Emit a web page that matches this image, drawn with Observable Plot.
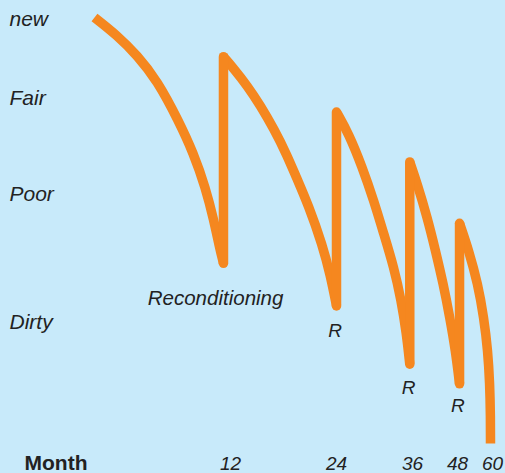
<!DOCTYPE html>
<html>
<head>
<meta charset="utf-8">
<script src="https://cdn.jsdelivr.net/npm/d3@7"></script>
<script src="https://cdn.jsdelivr.net/npm/@observablehq/plot@0.6"></script>
<style>
  html, body { margin: 0; padding: 0; background: #c8eafa; }
  #chart svg { display: block; background: #c8eafa; }
</style>
</head>
<body>
<div id="chart"></div>
<script>
// Month ticks
const monthTicks = [12, 24, 36, 48, 60];
// Condition categories (score on a 0–100 condition scale)
const conditionLabels = ["new", "Fair", "Poor", "Dirty"];
const conditionScores = [99.5, 81, 58.5, 28.5];

// Depreciation segments: [month, condition score]
const seg1 = [[0, 100], [2.0, 95.8], [3.77, 91.1], [5.53, 85.2], [7.41, 75.8], [8.74, 68.1], [9.79, 60.1], [10.54, 52.3], [11.03, 46.0], [11.38, 42.3]];
const seg2 = [[11.38, 90.8], [12.37, 88.0], [13.89, 84.0], [15.40, 79.3], [16.90, 73.9], [18.42, 67.6], [19.36, 62.9], [20.83, 55.9], [22.42, 46.5], [23.32, 39.4], [24, 32.3]];
const seg3 = [[24, 77.8], [25.94, 72.7], [28.06, 64.9], [29.89, 57.0], [31.47, 49.2], [33.05, 41.4], [34.22, 33.6], [35.05, 25.8], [35.57, 18.6]];
const seg4 = [[35.57, 66.1], [37.25, 61.0], [39.92, 53.1], [42.13, 45.3], [44.19, 37.5], [45.95, 29.6], [47.47, 21.8], [48.7, 14.0]];
const seg5 = [[48.7, 51.7], [51.87, 45.3], [54.96, 37.5], [57.02, 29.6], [58.39, 21.8], [59.07, 14.0], [59.31, 6.2], [59.31, 0]];
const segments = [seg1, seg2, seg3, seg4, seg5];

// Annotations
const annoLabels = ["Reconditioning", "R", "R", "R"];
const annoMonths = [4.7, 23.85, 35.4, 48.1];
const annoScores = [32.6, 24.9, 11.7, 7.3];

const lineData = segments.flatMap((s, i) => s.map(([m, v]) => ({seg: i, month: m, score: v})));
const jumps = segments.slice(0, -1).map((s, i) => ({
  m1: s[s.length - 1][0], v1: s[s.length - 1][1],
  m2: segments[i + 1][0][0], v2: segments[i + 1][0][1]
}));
const condData = conditionLabels.map((l, i) => ({label: l, score: conditionScores[i]}));
const annoData = annoLabels.map((l, i) => ({label: l, month: annoMonths[i], score: annoScores[i]}));

const orange = "#f5871f";
const ink = "#222";
const font = "'Liberation Sans', Arial, sans-serif";

const chart = Plot.plot({
  width: 505,
  height: 473,
  marginTop: 0, marginRight: 0, marginBottom: 0, marginLeft: 0,
  style: {background: "#c8eafa", fontFamily: font},
  x: {type: "linear", domain: [0, 12, 24, 36, 48, 60], range: [94, 230, 336, 412, 457, 492], axis: null},
  y: {type: "linear", domain: [0, 100], range: [443, 17], axis: null},
  marks: [
    Plot.line(lineData, {x: "month", y: "score", z: "seg", curve: "basis", stroke: orange, strokeWidth: 9.5, strokeLinecap: "butt", strokeLinejoin: "round"}),
    Plot.link(jumps, {x1: "m1", y1: "v1", x2: "m2", y2: "v2", stroke: orange, strokeWidth: 9.5, strokeLinecap: "round"}),
    Plot.text(condData, {y: "score", text: "label", frameAnchor: "left", dx: 9, textAnchor: "start", lineAnchor: "middle", fontSize: 21, fontStyle: "italic", fill: ink}),
    Plot.text(monthTicks, {x: d => d, text: d => String(d), frameAnchor: "bottom", lineAnchor: "bottom", dy: -4, fontSize: 19, fontStyle: "italic", fill: ink}),
    Plot.text(["Month"], {text: d => d, frameAnchor: "bottom-left", lineAnchor: "bottom", textAnchor: "start", dx: 24, dy: -4, fontSize: 21, fontWeight: "bold", fill: ink}),
    Plot.text(annoData.slice(0, 1), {x: "month", y: "score", text: "label", textAnchor: "start", lineAnchor: "bottom", fontSize: 20.5, fontStyle: "italic", fill: ink}),
    Plot.text(annoData.slice(1), {x: "month", y: "score", text: "label", textAnchor: "middle", lineAnchor: "bottom", fontSize: 19, fontStyle: "italic", fill: ink})
  ]
});
document.getElementById("chart").appendChild(chart);
</script>
</body>
</html>
